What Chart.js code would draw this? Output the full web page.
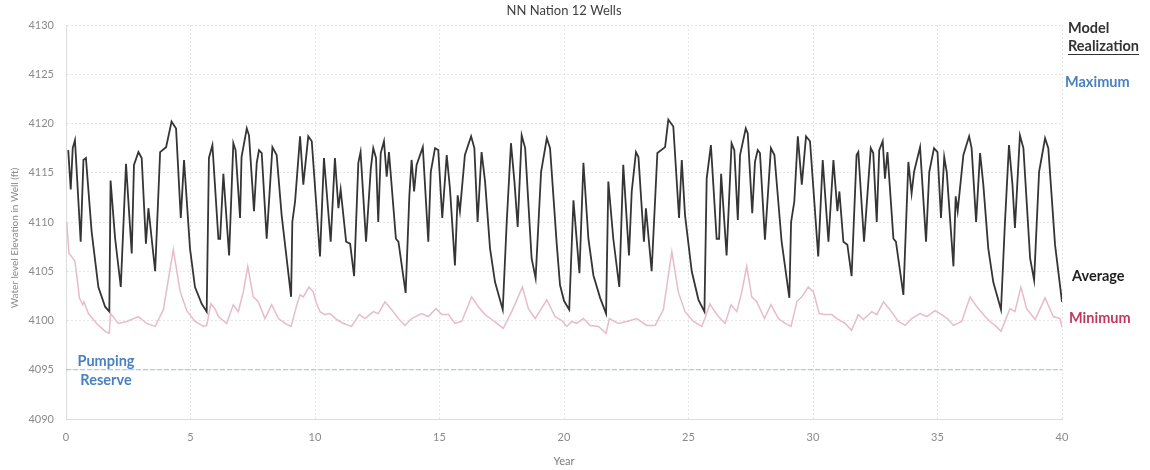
<!DOCTYPE html>
<html>
<head>
<meta charset="utf-8">
<title>NN Nation 12 Wells</title>
<script src="https://cdn.jsdelivr.net/npm/chart.js@4.4.1/dist/chart.umd.min.js"></script>
<style>
  html, body { margin: 0; padding: 0; background: #fff; }
</style>
</head>
<body>
<canvas id="wellChart" width="1150" height="470"></canvas>
<script>
// Tick labels
const yearTicks = [0, 5, 10, 15, 20, 25, 30, 35, 40];
const levelTicks = [4090, 4095, 4100, 4105, 4110, 4115, 4120, 4125, 4130];

// Average realization (year, water level ft)
const avgYears = [
  0.09, 0.19, 0.27, 0.36, 0.59, 0.70, 0.80, 1.03, 1.30, 1.57, 1.74, 1.79, 1.97, 2.20, 2.41, 2.64, 2.73, 2.91, 3.04, 3.21,
  3.31, 3.58, 3.78, 4.02, 4.24, 4.42, 4.61, 4.74, 4.98, 5.18, 5.45, 5.65, 5.74, 5.88, 6.12, 6.19, 6.32, 6.55, 6.72, 6.81,
  6.99, 7.05, 7.26, 7.35, 7.55, 7.66, 7.75, 7.86, 8.06, 8.29, 8.46, 8.66, 9.04, 9.09, 9.20, 9.40, 9.53, 9.73, 9.87, 10.20,
  10.36, 10.63, 10.80, 10.94, 11.03, 11.25, 11.41, 11.57, 11.74, 11.83, 12.05, 12.24, 12.34, 12.45, 12.54, 12.64, 12.77, 12.88, 12.97, 13.25,
  13.35, 13.64, 13.79, 13.88, 13.98, 14.08, 14.33, 14.55, 14.65, 14.82, 14.95, 15.11, 15.29, 15.42, 15.62, 15.73, 15.82, 16.02, 16.27, 16.40,
  16.53, 16.69, 16.83, 17.03, 17.23, 17.54, 17.70, 17.87, 18.01, 18.14, 18.30, 18.44, 18.70, 18.86, 19.08, 19.31, 19.44, 19.71, 19.84, 20.00,
  20.21, 20.38, 20.62, 20.78, 20.98, 21.18, 21.45, 21.69, 21.78, 21.98, 22.22, 22.38, 22.61, 22.72, 22.89, 22.99, 23.21, 23.29, 23.52, 23.75,
  24.06, 24.19, 24.39, 24.62, 24.73, 24.86, 25.13, 25.40, 25.64, 25.73, 25.90, 26.13, 26.23, 26.31, 26.53, 26.73, 26.84, 26.98, 27.07, 27.30,
  27.38, 27.56, 27.67, 27.78, 27.87, 28.07, 28.31, 28.45, 28.74, 29.05, 29.12, 29.25, 29.39, 29.55, 29.72, 29.88, 30.21, 30.39, 30.62, 30.82,
  30.98, 31.06, 31.22, 31.38, 31.55, 31.75, 31.82, 32.05, 32.32, 32.42, 32.56, 32.66, 32.80, 32.89, 32.99, 33.23, 33.33, 33.63, 33.83, 33.96,
  34.06, 34.30, 34.54, 34.67, 34.86, 35.00, 35.14, 35.27, 35.37, 35.64, 35.73, 35.81, 36.04, 36.27, 36.37, 36.55, 36.71, 36.84, 37.04, 37.24,
  37.55, 37.71, 37.87, 38.01, 38.11, 38.31, 38.45, 38.72, 38.88, 39.08, 39.32, 39.45, 39.72, 40.00
];
const avgLevel = [
  4117.3, 4113.3, 4117.5, 4118.3, 4108.0, 4116.3, 4116.5, 4109.0, 4103.4, 4101.4, 4100.9, 4114.2, 4108.4, 4103.4, 4115.9, 4106.8, 4115.8, 4117.1, 4116.5, 4107.8,
  4111.4, 4105.0, 4117.1, 4117.6, 4120.2, 4119.5, 4110.4, 4116.3, 4107.3, 4103.4, 4101.7, 4100.9, 4116.5, 4117.8, 4108.3, 4108.3, 4114.9, 4106.6, 4118.0, 4117.3,
  4110.4, 4116.6, 4119.5, 4118.8, 4111.1, 4116.0, 4117.3, 4117.0, 4108.3, 4117.6, 4116.8, 4110.7, 4102.4, 4110.0, 4112.1, 4118.7, 4113.8, 4118.7, 4118.2, 4106.5,
  4116.5, 4108.0, 4116.5, 4111.4, 4113.3, 4108.0, 4107.8, 4104.5, 4116.0, 4117.1, 4108.0, 4115.4, 4117.5, 4116.5, 4110.0, 4117.0, 4118.2, 4114.6, 4117.1, 4108.3,
  4108.0, 4102.8, 4112.7, 4116.3, 4113.1, 4115.8, 4117.6, 4108.0, 4115.1, 4117.5, 4117.3, 4110.4, 4116.8, 4113.4, 4105.6, 4112.7, 4111.1, 4116.8, 4118.7, 4117.5,
  4110.0, 4117.1, 4114.1, 4107.3, 4103.9, 4101.1, 4110.0, 4118.0, 4114.1, 4109.5, 4118.8, 4117.5, 4106.3, 4104.3, 4115.1, 4118.5, 4117.5, 4107.7, 4103.6, 4102.0,
  4101.1, 4112.2, 4104.8, 4116.0, 4108.3, 4104.6, 4102.3, 4100.7, 4114.1, 4108.3, 4103.4, 4115.8, 4106.6, 4113.1, 4117.1, 4116.6, 4108.0, 4111.4, 4105.0, 4117.0,
  4117.6, 4120.4, 4119.7, 4110.4, 4116.3, 4110.7, 4105.0, 4102.1, 4100.9, 4114.4, 4117.8, 4108.3, 4108.3, 4114.9, 4106.6, 4118.0, 4117.3, 4110.2, 4116.8, 4119.5,
  4119.0, 4110.9, 4116.1, 4117.3, 4117.0, 4108.2, 4117.5, 4116.8, 4108.0, 4102.3, 4110.0, 4112.1, 4118.7, 4113.8, 4118.7, 4118.2, 4106.5, 4116.3, 4108.0, 4116.3,
  4111.1, 4113.1, 4108.0, 4107.7, 4104.5, 4116.8, 4117.1, 4108.0, 4117.5, 4117.0, 4110.0, 4117.3, 4118.2, 4114.4, 4117.1, 4108.3, 4108.0, 4102.6, 4116.1, 4112.9,
  4115.1, 4117.6, 4108.0, 4115.1, 4117.5, 4117.1, 4110.4, 4116.6, 4115.1, 4105.5, 4112.6, 4111.1, 4116.8, 4118.7, 4117.5, 4110.0, 4117.0, 4113.8, 4107.3, 4103.9,
  4101.1, 4110.0, 4117.8, 4113.8, 4109.4, 4118.8, 4117.5, 4106.3, 4104.1, 4115.1, 4118.5, 4117.5, 4107.7, 4101.9
];

// Minimum realization
const minYears = [
  0.03, 0.12, 0.19, 0.36, 0.54, 0.67, 0.72, 0.90, 1.23, 1.57, 1.74, 1.79, 2.10, 2.44, 2.91, 3.24, 3.58, 3.91, 4.31, 4.58,
  4.85, 5.18, 5.52, 5.65, 5.82, 5.98, 6.12, 6.45, 6.72, 6.92, 7.12, 7.30, 7.52, 7.72, 7.99, 8.26, 8.53, 8.80, 9.04, 9.27,
  9.40, 9.53, 9.76, 9.93, 10.05, 10.20, 10.40, 10.60, 10.87, 11.14, 11.47, 11.78, 12.01, 12.34, 12.54, 12.81, 13.08, 13.35, 13.61, 13.88,
  14.28, 14.55, 14.86, 15.10, 15.36, 15.62, 15.89, 16.29, 16.56, 16.83, 17.10, 17.30, 17.56, 17.90, 18.33, 18.57, 18.84, 19.31, 19.64, 19.91,
  20.11, 20.31, 20.51, 20.78, 21.05, 21.38, 21.69, 21.82, 22.18, 22.52, 22.92, 23.32, 23.66, 23.99, 24.33, 24.59, 24.86, 25.20, 25.53, 25.66,
  25.86, 26.00, 26.20, 26.47, 26.71, 26.94, 27.14, 27.34, 27.54, 27.74, 28.05, 28.31, 28.61, 28.88, 29.12, 29.35, 29.55, 29.81, 30.02, 30.25,
  30.48, 30.75, 31.02, 31.29, 31.55, 31.82, 32.02, 32.36, 32.56, 32.83, 33.09, 33.43, 33.70, 33.96, 34.30, 34.57, 34.90, 35.17, 35.44, 35.64,
  35.97, 36.31, 36.58, 36.84, 37.11, 37.31, 37.55, 37.91, 38.11, 38.35, 38.58, 38.92, 39.32, 39.65, 39.92, 40.00
];
const minLevel = [
  4110.0, 4106.8, 4106.6, 4106.0, 4102.3, 4101.6, 4101.9, 4100.7, 4099.7, 4098.9, 4098.7, 4100.7, 4099.7, 4099.9, 4100.4, 4099.7, 4099.4, 4101.1, 4107.2, 4103.0,
  4101.0, 4099.9, 4099.4, 4099.5, 4101.7, 4101.2, 4100.4, 4099.7, 4101.6, 4100.9, 4102.9, 4105.5, 4102.4, 4101.9, 4100.2, 4101.6, 4100.2, 4099.7, 4099.4, 4101.6,
  4102.6, 4102.4, 4103.4, 4102.9, 4101.8, 4100.9, 4100.6, 4100.7, 4100.1, 4099.7, 4099.4, 4100.6, 4100.2, 4100.9, 4100.7, 4101.9, 4101.1, 4100.2, 4099.5, 4100.2,
  4100.7, 4100.4, 4101.2, 4100.6, 4100.6, 4099.7, 4099.9, 4102.4, 4101.4, 4100.6, 4100.1, 4099.7, 4099.2, 4100.9, 4103.4, 4101.2, 4100.2, 4102.1, 4100.4, 4100.0,
  4099.4, 4099.9, 4099.7, 4100.2, 4099.5, 4099.4, 4098.7, 4100.2, 4099.7, 4099.9, 4100.2, 4099.5, 4099.5, 4101.1, 4107.0, 4102.9, 4100.9, 4099.9, 4099.4, 4100.2,
  4101.7, 4101.1, 4100.4, 4099.7, 4101.6, 4100.9, 4102.9, 4105.5, 4102.4, 4101.9, 4100.2, 4101.6, 4100.2, 4099.7, 4099.4, 4101.9, 4102.4, 4103.4, 4102.9, 4100.7,
  4100.6, 4100.6, 4100.1, 4099.7, 4099.0, 4100.6, 4100.1, 4100.9, 4100.6, 4101.9, 4101.1, 4099.9, 4099.5, 4100.2, 4100.7, 4100.4, 4101.0, 4100.6, 4100.1, 4099.5,
  4099.9, 4102.4, 4101.4, 4100.6, 4099.9, 4099.5, 4098.9, 4101.2, 4100.9, 4103.4, 4101.2, 4100.1, 4102.3, 4100.4, 4100.2, 4099.3
];

// Pumping reserve level
const reserveYears = [0, 40];
const reserveLevel = [4095, 4095];

const toPoints = (xs, ys) => xs.map((x, i) => ({ x: x, y: ys[i] }));

// side labels and plot / y-axis titles drawn on the canvas
const sideLabels = {
  id: 'sideLabels',
  afterDraw(chart) {
    const ctx = chart.ctx;
    const area = chart.chartArea;
    ctx.save();
    ctx.textBaseline = 'middle';

    ctx.font = '13px Lato';
    ctx.fillStyle = '#404040';
    ctx.textAlign = 'center';
    ctx.fillText('NN Nation 12 Wells', (area.left + area.right) / 2, 11);

    ctx.save();
    ctx.translate(15, 238);
    ctx.rotate(-Math.PI / 2);
    ctx.font = '10px Lato';
    ctx.fillStyle = '#8a8a8a';
    ctx.fillText('Water level Elevation in Well (ft)', 0, 0);
    ctx.restore();

    ctx.textAlign = 'left';
    ctx.font = 'bold 14.5px Lato';
    ctx.fillStyle = '#333333';
    ctx.fillText('Model', 1068, 28);
    ctx.fillText('Realization', 1068, 46);
    const w = ctx.measureText('Realization').width;
    ctx.strokeStyle = '#333333';
    ctx.lineWidth = 1;
    ctx.beginPath();
    ctx.moveTo(1068, 54.5);
    ctx.lineTo(1068 + w, 54.5);
    ctx.stroke();

    ctx.fillStyle = '#4a80c0';
    ctx.fillText('Maximum', 1065, 82);
    ctx.fillStyle = '#1e1e1e';
    ctx.fillText('Average', 1072, 276);
    ctx.fillStyle = '#c2375c';
    ctx.fillText('Minimum', 1069, 318);

    ctx.fillStyle = '#4a80c0';
    ctx.textAlign = 'center';
    ctx.fillText('Pumping', 106, 361);
    ctx.fillText('Reserve', 106, 380);
    ctx.restore();
  }
};

const ctx = document.getElementById('wellChart').getContext('2d');
const chart = new Chart(ctx, {
  type: 'line',
  data: {
    datasets: [
      {
        label: 'Pumping Reserve',
        data: toPoints(reserveYears, reserveLevel),
        borderColor: '#a3bde6',
        borderWidth: 1.2,
        borderDash: [5, 2],
        pointRadius: 0
      },
      {
        label: 'Minimum',
        data: toPoints(minYears, minLevel),
        borderColor: '#e6bccb',
        borderWidth: 1.5,
        pointRadius: 0
      },
      {
        label: 'Average',
        data: toPoints(avgYears, avgLevel),
        borderColor: '#353535',
        borderWidth: 1.8,
        pointRadius: 0
      }
    ]
  },
  options: {
    responsive: false,
    animation: false,
    devicePixelRatio: 1,
    layout: { padding: { top: 25, right: 88, bottom: 0, left: 0 } },
    plugins: {
      legend: { display: false },
      title: { display: false },
      tooltip: { enabled: false }
    },
    scales: {
      x: {
        type: 'linear',
        min: yearTicks[0],
        max: yearTicks[yearTicks.length - 1],
        afterBuildTicks: s => { s.ticks = yearTicks.map(v => ({ value: v })); },
        afterFit: s => { s.height = 51; },
        grid: { color: '#e6e6e6', drawTicks: false },
        border: { color: '#dcdcdc', dash: [2, 2] },
        ticks: { color: '#8a8a8a', font: { family: 'Lato', size: 11 }, padding: 12, callback: v => String(v) },
        title: { display: true, text: 'Year', color: '#7a7a7a', font: { family: 'Lato', size: 11 }, padding: { top: 0, bottom: 2 } }
      },
      y: {
        min: levelTicks[0],
        max: levelTicks[levelTicks.length - 1],
        afterBuildTicks: s => { s.ticks = levelTicks.map(v => ({ value: v })); },
        afterFit: s => { s.width = 66; },
        grid: { color: '#e6e6e6', drawTicks: false },
        border: { color: '#dcdcdc', dash: [2, 2] },
        ticks: { color: '#8a8a8a', font: { family: 'Lato', size: 11 }, padding: 12, callback: v => String(v) }
      }
    }
  },
  plugins: [sideLabels]
});
</script>
</body>
</html>
